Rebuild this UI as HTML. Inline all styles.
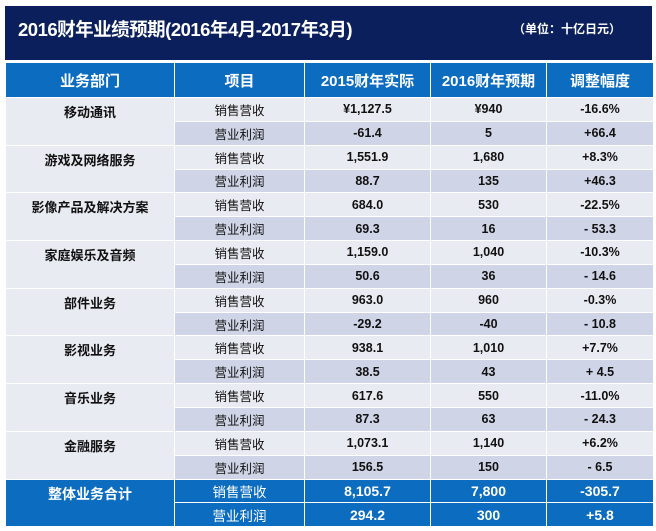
<!DOCTYPE html>
<html><head><meta charset="utf-8"><style>
body{margin:0;width:656px;height:531px;background:#fff;position:relative;overflow:hidden;font-family:"Liberation Sans","Noto Sans CJK SC",sans-serif}
.top{position:absolute;left:5px;top:6px;width:647px;height:54px;background:#0a1f5c}
.t1{position:absolute;left:13px;top:10px;color:#fff;font-size:18.5px;font-weight:bold;letter-spacing:-0.5px}
.t2{position:absolute;left:508px;top:14px;color:#fff;font-size:12px;font-weight:bold}
table{position:absolute;left:5px;top:62px;border-collapse:collapse;table-layout:fixed;width:648px}
td,th{border:1.5px solid #fff;text-align:center;padding:0;font-size:12.5px;color:#111}
th{background:#0b6cc0;color:#fff;height:34px;font-size:15px;font-weight:bold}
td{height:22.85px}
.d{vertical-align:top;padding-top:4px;font-weight:bold;font-size:13px;background:#e9ebf2}
tr.a td{background:#e9ebf2}
tr.b td{background:#cfd5e6}
tr.b td.d{background:#e9ebf2}
td.n{font-weight:bold}
tr.s td{background:#0b6cc0!important;color:#fff;font-size:13.5px}
tr.s td.n{font-size:14px}
</style></head><body>
<div class="top"><div class="t1">2016财年业绩预期(2016年4月-2017年3月)</div><div class="t2">（单位：十亿日元）</div></div>
<table>
<colgroup><col style="width:169px"><col style="width:130px"><col style="width:126px"><col style="width:116px"><col style="width:107px"></colgroup>
<tr><th>业务部门</th><th>项目</th><th>2015财年实际</th><th>2016财年预期</th><th>调整幅度</th></tr>
<tr class="a"><td class="d" rowspan="2">移动通讯</td><td>销售营收</td><td class="n">¥1,127.5</td><td class="n">¥940</td><td class="n">-16.6%</td></tr>
<tr class="b"><td>营业利润</td><td class="n">-61.4</td><td class="n">5</td><td class="n">+66.4</td></tr>
<tr class="a"><td class="d" rowspan="2">游戏及网络服务</td><td>销售营收</td><td class="n">1,551.9</td><td class="n">1,680</td><td class="n">+8.3%</td></tr>
<tr class="b"><td>营业利润</td><td class="n">88.7</td><td class="n">135</td><td class="n">+46.3</td></tr>
<tr class="a"><td class="d" rowspan="2">影像产品及解决方案</td><td>销售营收</td><td class="n">684.0</td><td class="n">530</td><td class="n">-22.5%</td></tr>
<tr class="b"><td>营业利润</td><td class="n">69.3</td><td class="n">16</td><td class="n">- 53.3</td></tr>
<tr class="a"><td class="d" rowspan="2">家庭娱乐及音频</td><td>销售营收</td><td class="n">1,159.0</td><td class="n">1,040</td><td class="n">-10.3%</td></tr>
<tr class="b"><td>营业利润</td><td class="n">50.6</td><td class="n">36</td><td class="n">- 14.6</td></tr>
<tr class="a"><td class="d" rowspan="2">部件业务</td><td>销售营收</td><td class="n">963.0</td><td class="n">960</td><td class="n">-0.3%</td></tr>
<tr class="b"><td>营业利润</td><td class="n">-29.2</td><td class="n">-40</td><td class="n">- 10.8</td></tr>
<tr class="a"><td class="d" rowspan="2">影视业务</td><td>销售营收</td><td class="n">938.1</td><td class="n">1,010</td><td class="n">+7.7%</td></tr>
<tr class="b"><td>营业利润</td><td class="n">38.5</td><td class="n">43</td><td class="n">+ 4.5</td></tr>
<tr class="a"><td class="d" rowspan="2">音乐业务</td><td>销售营收</td><td class="n">617.6</td><td class="n">550</td><td class="n">-11.0%</td></tr>
<tr class="b"><td>营业利润</td><td class="n">87.3</td><td class="n">63</td><td class="n">- 24.3</td></tr>
<tr class="a"><td class="d" rowspan="2">金融服务</td><td>销售营收</td><td class="n">1,073.1</td><td class="n">1,140</td><td class="n">+6.2%</td></tr>
<tr class="b"><td>营业利润</td><td class="n">156.5</td><td class="n">150</td><td class="n">- 6.5</td></tr>
<tr class="s"><td class="d" rowspan="2" style="font-size:14px">整体业务合计</td><td>销售营收</td><td class="n">8,105.7</td><td class="n">7,800</td><td class="n">-305.7</td></tr>
<tr class="s"><td>营业利润</td><td class="n">294.2</td><td class="n">300</td><td class="n">+5.8</td></tr>
</table>
</body></html>
